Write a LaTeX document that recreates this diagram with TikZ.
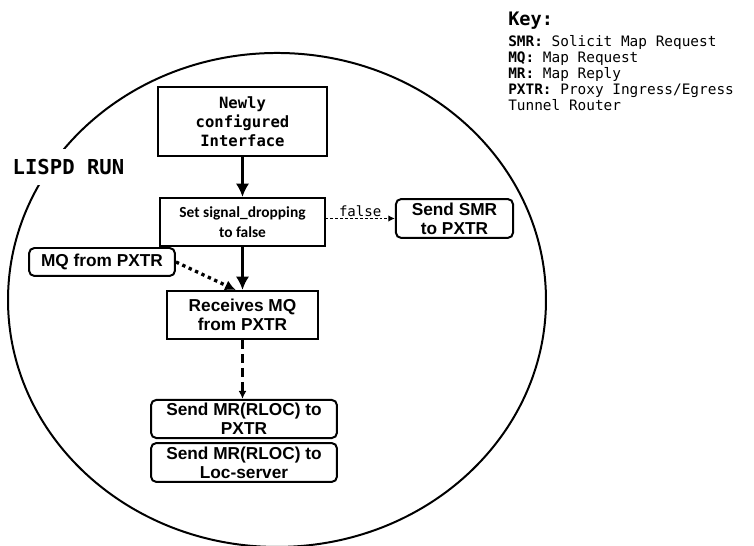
\documentclass[tikz,border=0pt]{standalone}
\usepackage{fontspec}
\usepackage{tikz}
\usetikzlibrary{shapes,arrows,arrows.meta,positioning,calc}
\setmonofont{DejaVu Sans Mono}
\newfontfamily\arialfont{Liberation Sans}
\newfontfamily\calibrifont{Carlito}

\begin{document}
\begin{tikzpicture}[
  box/.style={draw,line width=1.5pt,align=center,inner sep=0pt},
  rbox/.style={box,rounded corners=4pt},
  monobf/.style={font=\ttfamily\bfseries\fontsize{11.7}{14.3}\selectfont},
  sansbf/.style={font=\arialfont\bfseries\fontsize{13}{14.3}\selectfont},
  calbf/.style={font=\calibrifont\bfseries\fontsize{11.6}{15}\selectfont},
  flow/.style={line width=3pt,-{Latex[length=10pt,width=10pt]}},
  dashflow/.style={line width=2pt,dash pattern=on 7pt off 3.5pt,-{Latex[length=6pt,width=6pt]}},
  thinflow/.style={line width=1pt,dash pattern=on 2.2pt off 1.5pt,-{Latex[length=5pt,width=5pt]}},
  dotflow/.style={line width=2.5pt,dash pattern=on 2.5pt off 2.8pt,-{Latex[length=8pt,width=8pt]}}
]
  \useasboundingbox (0,0) rectangle (19.95,14.446);

  % the lispd run loop
  \node[draw,ellipse,line width=1.5pt,inner sep=0pt,minimum width=14.234cm,minimum height=13.07cm] (lispd) at (7.329,6.509) {};
  \node[fill=white,inner xsep=2pt,inner ysep=8pt,font=\ttfamily\bfseries\fontsize{15.5}{18}\selectfont] (runlbl) at (1.812,10.028) {LISPD RUN};

  % Steps
  \node[box,monobf,minimum width=4.47cm,minimum height=1.83cm] (newly) at (6.416,11.231) {Newly\\configured\\Interface};
  \node[box,calbf,minimum width=4.34cm,minimum height=1.27cm] (setsig) at (6.416,8.572) {Set signal\_dropping\\to false};
  \node[rbox,sansbf,minimum width=3.10cm,minimum height=1.03cm] (smr) at (12.025,8.665) {Send SMR\\to PXTR};
  \node[rbox,sansbf,minimum width=3.86cm,minimum height=0.74cm] (mqpx) at (2.699,7.514) {MQ from PXTR};
  \node[box,sansbf,minimum width=4.0cm,minimum height=1.27cm] (recv) at (6.416,6.112) {Receives MQ\\from PXTR};
  \node[rbox,sansbf,minimum width=4.92cm,minimum height=1.01cm] (mrpx) at (6.456,3.360) {Send MR(RLOC) to\\PXTR};
  \node[rbox,sansbf,minimum width=4.92cm,minimum height=1.03cm] (mrloc) at (6.456,2.209) {Send MR(RLOC) to\\Loc-server};

  % Transitions
  \draw[flow] (newly) -- (setsig);
  \draw[flow] (setsig) -- (recv);
  \draw[thinflow] (setsig.east |- smr.west) -- (smr.west) node[midway,above,inner sep=0.8pt,font=\ttfamily\fontsize{10.6}{12}\selectfont]{false};
  \draw[dotflow] (mqpx.east) -- ([xshift=-0.18cm]recv.north);
  \draw[dashflow] (recv) -- (recv.south |- mrpx.north);

  % Key
  \node[anchor=base west,inner sep=0pt,font=\ttfamily\bfseries\fontsize{14}{16}\selectfont] (keyttl) at (13.441,13.758) {Key:};
  \node[anchor=north west,inner sep=0pt,align=left,font=\ttfamily\fontsize{10.85}{12}\selectfont] (keybody) at (13.441,13.52)
    {\textbf{SMR:} Solicit Map Request\\
     \textbf{MQ:} Map Request\\
     \textbf{MR:} Map Reply\\
     \textbf{PXTR:} Proxy Ingress/Egress\\
     Tunnel Router};
\end{tikzpicture}
\end{document}
